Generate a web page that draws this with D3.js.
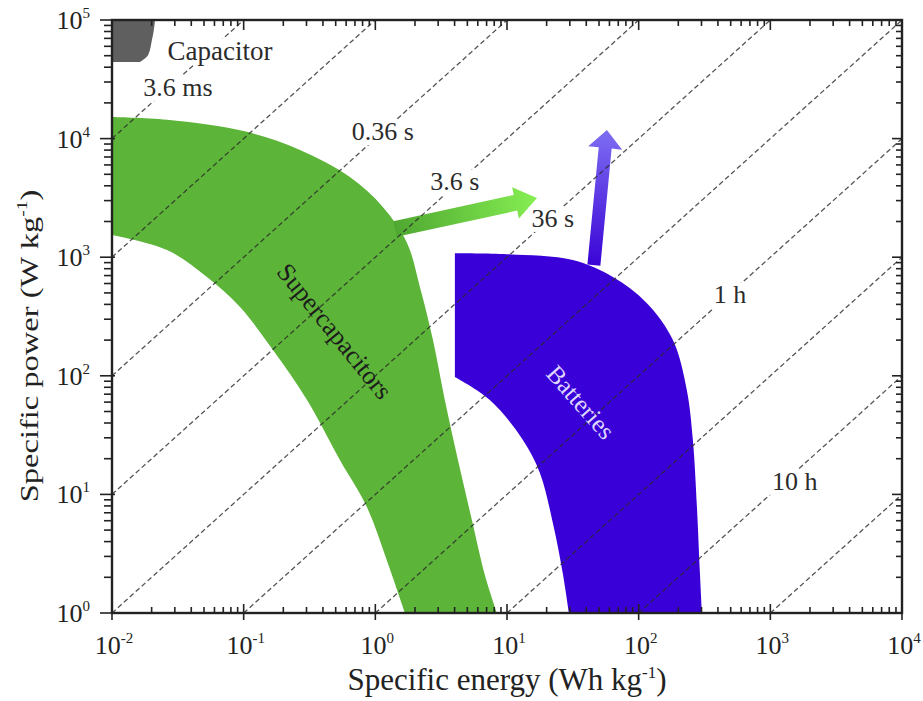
<!DOCTYPE html>
<html lang="en">
<head>
<meta charset="UTF-8">
<title>Ragone plot</title>
<script src="https://d3js.org/d3.v7.min.js"></script>
<style>
  body { margin: 0; background: #fff; }
  svg { display: block; }
  text { font-family: "Liberation Serif", "Times New Roman", Tinos, "Nimbus Roman", "Nimbus Roman No9 L", FreeSerif, "Noto Serif", "DejaVu Serif", Georgia, serif; }
  .axis-line { stroke: #222; stroke-width: 2.4; fill: none; }
  .tick-line { stroke: #222; stroke-width: 1.6; }
  .time-line { stroke: #2a2a2a; stroke-width: 1.3; stroke-dasharray: 5,3; fill: none; opacity: 0.8; }
  .time-label { font-size: 26px; fill: #2b2b2b; }
</style>
</head>
<body>
<svg id="chart" width="923" height="701"></svg>
<script>
// axis ticks (powers of ten)
const xTickExps = [-2, -1, 0, 1, 2, 3, 4];
const yTickExps = [0, 1, 2, 3, 4, 5];

// constant discharge-time lines (hours) and their labels
const timeHours = [1e-6, 1e-5, 1e-4, 1e-3, 1e-2, 1e-1, 1, 10, 100, 1000];
const timeLabels = ["3.6 ms", "0.36 s", "3.6 s", "36 s", "1 h", "10 h"];
const timeLabelE = [0.0317, 1.14, 4.02, 22.3, 493, 1535];
const timeLabelP = [22900, 9730, 3690, 1800, 411, 10.9];

// capacitor region (Wh/kg, W/kg)
const capE = [0.01, 0.0212, 0.0207, 0.0201, 0.0188, 0.0163, 0.01];
const capP = [1e5, 1e5, 80000, 67800, 50700, 44300, 44300];

// supercapacitor region: outer (upper/right) and inner (lower/left) edges
const superOuterE = [0.01, 0.0262, 0.106, 0.268, 0.641, 1.14, 1.74, 2.18, 2.74, 3.37, 4.24, 5.41, 6.79, 8.37];
const superOuterP = [15200, 14400, 11400, 8020, 4740, 2650, 1320, 561, 200, 62.5, 19.5, 6.08, 2.09, 1];
const superInnerE = [0.01, 0.0262, 0.0526, 0.0938, 0.167, 0.303, 0.538, 0.863, 1.22, 1.68];
const superInnerP = [1540, 1150, 681, 380, 165, 62.5, 19.5, 7.83, 2.80, 1];

// battery region
const battOuterE = [4.02, 9.98, 31.6, 63.7, 115, 182, 232, 258, 277, 292, 302];
const battOuterP = [1080, 1060, 946, 681, 411, 200, 75.9, 28.8, 7.83, 2.17, 1];
const battInnerE = [29.5, 26.5, 22.3, 17.8, 13.2, 7.41, 4.02];
const battInnerP = [1, 2.17, 5.74, 15.1, 28.8, 62.5, 97.7];

// improvement arrows: [start, tip] as [E, P]
const superArrow = [[1.41, 1730], [16.9, 3150]];
const battArrow = [[45.7, 859], [57.4, 11800]];

// region labels
const regionNames = ["Capacitor", "Supercapacitors", "Batteries"];
const regionE = [0.066, 0.493, 36.4];
const regionP = [46000, 239, 60.1];

const svg = d3.select("#chart");
const margin = { top: 20, right: 21, bottom: 88, left: 112 };
const W = 923, H = 701;
const x = d3.scaleLog().domain([1e-2, 1e4]).range([margin.left, W - margin.right]);
const y = d3.scaleLog().domain([1, 1e5]).range([H - margin.bottom, margin.top]);

const defs = svg.append("defs");
defs.append("clipPath").attr("id", "plot-clip")
    .append("rect")
    .attr("x", x.range()[0]).attr("y", y.range()[1])
    .attr("width", x.range()[1] - x.range()[0])
    .attr("height", y.range()[0] - y.range()[1]);

const plot = svg.append("g").attr("clip-path", "url(#plot-clip)");

const zip = (es, ps) => es.map((e, i) => [e, ps[i]]);
const smooth = d3.line().x(d => x(d[0])).y(d => y(d[1])).curve(d3.curveCatmullRom.alpha(0.5));
const straight = d3.line().x(d => x(d[0])).y(d => y(d[1]));

function band(outer, inner) {
    return smooth(outer) + "L" + smooth(inner).slice(1) + "Z";
}

// capacitor
plot.append("path")
    .attr("d", d3.line().x(d => x(d[0])).y(d => y(d[1])).curve(d3.curveMonotoneY)(zip(capE.slice(1, 6), capP.slice(1, 6)))
        + "L" + x(capE[6]) + "," + y(capP[6]) + "L" + x(capE[0]) + "," + y(capP[0]) + "Z")
    .attr("fill", "#5f5f5f");

// supercapacitors
plot.append("path")
    .attr("d", band(zip(superOuterE, superOuterP), zip(superInnerE, superInnerP).reverse()))
    .attr("fill", "#5cb438");

// batteries
plot.append("path")
    .attr("d", band(zip(battOuterE, battOuterP), zip(battInnerE, battInnerP)))
    .attr("fill", "#3a00d8");

// arrows with gradients
function arrow(pts, id, c0, c1, shaftW, headW, headL) {
    const x0 = x(pts[0][0]), y0 = y(pts[0][1]);
    const x1 = x(pts[1][0]), y1 = y(pts[1][1]);
    const len = Math.hypot(x1 - x0, y1 - y0);
    const ux = (x1 - x0) / len, uy = (y1 - y0) / len;
    const nx = -uy, ny = ux;
    const bx = x1 - ux * headL, by = y1 - uy * headL;
    const p = [
        [x0 + nx * shaftW / 2, y0 + ny * shaftW / 2],
        [bx + nx * shaftW / 2, by + ny * shaftW / 2],
        [bx + nx * headW / 2, by + ny * headW / 2],
        [x1, y1],
        [bx - nx * headW / 2, by - ny * headW / 2],
        [bx - nx * shaftW / 2, by - ny * shaftW / 2],
        [x0 - nx * shaftW / 2, y0 - ny * shaftW / 2]
    ];
    const g = defs.append("linearGradient").attr("id", id)
        .attr("gradientUnits", "userSpaceOnUse")
        .attr("x1", x0).attr("y1", y0).attr("x2", x1).attr("y2", y1);
    g.append("stop").attr("offset", "0%").attr("stop-color", c0);
    g.append("stop").attr("offset", "100%").attr("stop-color", c1);
    plot.append("path")
        .attr("d", "M" + p.map(q => q.join(",")).join("L") + "Z")
        .attr("fill", "url(#" + id + ")");
}
arrow(superArrow, "grad-super", "#4fa831", "#86ee52", 16, 32, 22);
arrow(battArrow, "grad-batt", "#3a04d6", "#7e6ef2", 13, 34, 18);

// constant-time dashed lines
timeHours.forEach(t => {
    const e0 = Math.max(1e-2, t * 1), e1 = Math.min(1e4, t * 1e5);
    if (e0 >= e1) return;
    plot.append("path")
        .attr("class", "time-line")
        .attr("d", straight([[e0, e0 / t], [e1, e1 / t]]));
});

// labels sit on white boxes that interrupt the dashed lines
const labelLayer = svg.append("g");
function boxedLabel(txt, px, py, size) {
    const g = labelLayer.append("g");
    const rect = g.append("rect").attr("fill", "#fff");
    const t = g.append("text").attr("class", "time-label")
        .attr("x", px).attr("y", py).attr("text-anchor", "middle")
        .style("font-size", size + "px").text(txt);
    const b = t.node().getBBox();
    rect.attr("x", b.x - 3).attr("y", b.y + 3).attr("width", b.width + 6).attr("height", b.height - 4);
}
timeLabels.forEach((d, i) => boxedLabel(d, x(timeLabelE[i]), y(timeLabelP[i]), 26));
boxedLabel(regionNames[0], x(regionE[0]), y(regionP[0]), 27);

svg.append("text")
    .attr("transform", `translate(${x(regionE[1])},${y(regionP[1])}) rotate(51)`)
    .attr("text-anchor", "middle").attr("dy", "0.35em")
    .style("font-size", "26px").attr("fill", "#1c1c1c")
    .text(regionNames[1]);

svg.append("text")
    .attr("transform", `translate(${x(regionE[2])},${y(regionP[2])}) rotate(48.5)`)
    .attr("text-anchor", "middle").attr("dy", "0.35em")
    .style("font-size", "25px").attr("fill", "#ddd6ff")
    .text(regionNames[2]);

// frame
const [xl, xr] = x.range(), [yb, yt] = y.range();
svg.append("rect").attr("class", "axis-line")
    .attr("x", xl).attr("y", yt).attr("width", xr - xl).attr("height", yb - yt);

// ticks
const xMinor = x.ticks().filter(v => !xTickExps.includes(Math.round(Math.log10(v) * 1e6) / 1e6));
const yMinor = y.ticks().filter(v => !yTickExps.includes(Math.round(Math.log10(v) * 1e6) / 1e6));
const ticks = svg.append("g");
xMinor.forEach(v => {
    ticks.append("line").attr("class", "tick-line").attr("x1", x(v)).attr("x2", x(v)).attr("y1", yb).attr("y2", yb - 6);
    ticks.append("line").attr("class", "tick-line").attr("x1", x(v)).attr("x2", x(v)).attr("y1", yt).attr("y2", yt + 6);
});
xTickExps.forEach(k => {
    const v = Math.pow(10, k);
    ticks.append("line").attr("class", "tick-line").attr("x1", x(v)).attr("x2", x(v)).attr("y1", yb + 7).attr("y2", yb - 9);
    ticks.append("line").attr("class", "tick-line").attr("x1", x(v)).attr("x2", x(v)).attr("y1", yt).attr("y2", yt + 10);
});
yMinor.forEach(v => {
    ticks.append("line").attr("class", "tick-line").attr("x1", xl).attr("x2", xl - 8).attr("y1", y(v)).attr("y2", y(v));
    ticks.append("line").attr("class", "tick-line").attr("x1", xr).attr("x2", xr - 6).attr("y1", y(v)).attr("y2", y(v));
});
yTickExps.forEach(k => {
    const v = Math.pow(10, k);
    ticks.append("line").attr("class", "tick-line").attr("x1", xl + 3).attr("x2", xl - 12).attr("y1", y(v)).attr("y2", y(v));
    ticks.append("line").attr("class", "tick-line").attr("x1", xr).attr("x2", xr - 10).attr("y1", y(v)).attr("y2", y(v));
});

// tick labels
function powerLabel(g, k, px, py, anchor) {
    const t = g.append("text").attr("x", px).attr("y", py).attr("text-anchor", anchor)
        .style("font-size", "26px").attr("fill", "#222");
    t.append("tspan").text("10");
    t.append("tspan").attr("dy", -11).style("font-size", "15px").text(String(k));
}
const labels = svg.append("g");
xTickExps.forEach(k => powerLabel(labels, k, x(Math.pow(10, k)) + 2, yb + 41, "middle"));
yTickExps.forEach(k => powerLabel(labels, k, xl - 22, y(Math.pow(10, k)) + 9, "end"));

// axis titles
const xt = svg.append("text")
    .attr("x", (xl + xr) / 2).attr("y", 690)
    .attr("text-anchor", "middle").style("font-size", "31px").attr("fill", "#222");
xt.append("tspan").text("Specific energy (Wh kg");
xt.append("tspan").attr("dy", -12).style("font-size", "17px").text("-1");
xt.append("tspan").attr("dy", 12).text(")");

const yt2 = svg.append("text")
    .attr("transform", "translate(38,346) rotate(-90) scale(1.3,1)")
    .attr("text-anchor", "middle").style("font-size", "25px").attr("fill", "#222");
yt2.append("tspan").text("Specific power (W kg");
yt2.append("tspan").attr("dy", -11).style("font-size", "15px").text("-1");
yt2.append("tspan").attr("dy", 11).text(")");
</script>
</body>
</html>
